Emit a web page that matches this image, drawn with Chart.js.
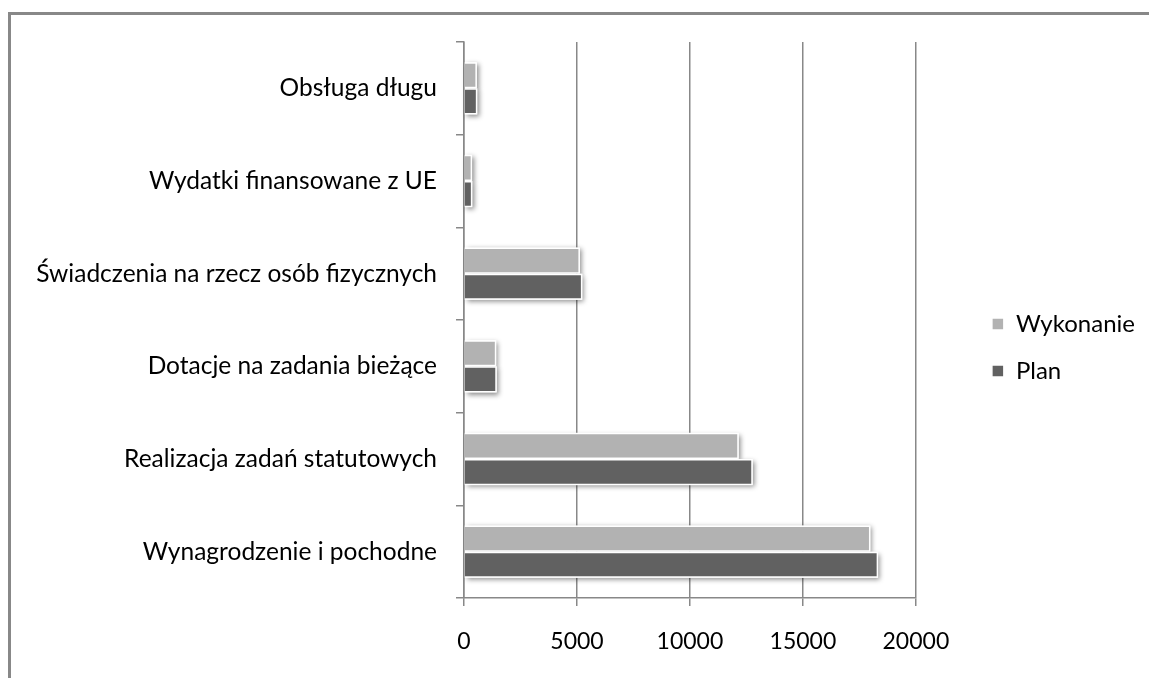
<!DOCTYPE html>
<html>
<head>
<meta charset="utf-8">
<script src="https://cdn.jsdelivr.net/npm/chart.js@4"></script>
<style>
    html, body { margin: 0; padding: 0; background: #fff; overflow: hidden; }
    .frame {
        position: absolute; left: 8px; top: 12px; width: 1200px; height: 700px;
        border-top: 3px solid #888; border-left: 3px solid #888;
    }
    #chart { position: absolute; left: 11px; top: 15px; }
</style>
</head>
<body>
<div class="frame"></div>
<canvas id="chart" width="1138" height="663"></canvas>
<script>
// dane z wykresu (od góry do dołu)
const categories = [
    "Obsługa długu",
    "Wydatki finansowane z UE",
    "Świadczenia na rzecz osób fizycznych",
    "Dotacje na zadania bieżące",
    "Realizacja zadań statutowych",
    "Wynagrodzenie i pochodne"
];
const wykonanie = [570, 360, 5130, 1430, 12160, 17990];
const plan = [590, 370, 5240, 1450, 12780, 18330];
const xTicks = [0, 5000, 10000, 15000, 20000];

const gridColor = "#888";
const fontFamily = "Lato, 'Noto Sans', sans-serif";

// cień pod słupkami jak w Excelu
const barShadow = {
    id: "barShadow",
    beforeDatasetsDraw(chart) {
        const ctx = chart.ctx;
        ctx.save();
        ctx.shadowColor = "rgba(0,0,0,0.45)";
        ctx.shadowBlur = 5;
        ctx.shadowOffsetX = 2;
        ctx.shadowOffsetY = 2;
        ctx.fillStyle = "#fff";
        chart.data.datasets.forEach((ds, i) => {
            const meta = chart.getDatasetMeta(i);
            if (meta.hidden) return;
            meta.data.forEach(el => {
                const { x, y, base, height } = el.getProps(["x", "y", "base", "height"], true);
                ctx.fillRect(Math.min(base, x), y - height / 2, Math.abs(x - base), height);
            });
        });
        ctx.restore();
    }
};

new Chart(document.getElementById("chart").getContext("2d"), {
    type: "bar",
    data: {
        labels: categories,
        datasets: [
            { label: "Wykonanie", data: wykonanie, backgroundColor: "#b2b2b2", borderColor: "#fff", borderWidth: 1.5 },
            { label: "Plan", data: plan, backgroundColor: "#616161", borderColor: "#fff", borderWidth: 1.5 }
        ]
    },
    options: {
        indexAxis: "y",
        responsive: false,
        animation: false,
        categoryPercentage: 0.565,
        barPercentage: 1,
        layout: { padding: { top: 2, left: 0, right: 4, bottom: 0 } },
        plugins: {
            tooltip: { enabled: false },
            legend: {
                position: "right",
                labels: {
                    boxWidth: 12, boxHeight: 12, padding: 23,
                    color: "#000",
                    font: { family: fontFamily, size: 24 }
                }
            }
        },
        scales: {
            x: {
                min: xTicks[0],
                max: xTicks[xTicks.length - 1],
                afterBuildTicks: s => { s.ticks = xTicks.map(v => ({ value: v })); },
                afterFit: s => { s.height = 80; },
                grid: { color: gridColor, lineWidth: 1.5, tickLength: 8 },
                border: { color: gridColor, width: 1.5 },
                ticks: {
                    color: "#000", padding: 22,
                    font: { family: fontFamily, size: 23 },
                    callback: v => String(v)
                }
            },
            y: {
                afterFit: s => { s.width = 453; s.paddingTop = 0; s.paddingBottom = 0; },
                grid: { offset: true, drawOnChartArea: false, color: gridColor, lineWidth: 1.5, tickLength: 8 },
                border: { color: gridColor, width: 1.5 },
                ticks: { color: "#000", padding: 19, font: { family: fontFamily, size: 24.5 } }
            },
            xTop: {
                position: "top",
                type: "linear",
                afterFit: s => { s.height = 25; s.paddingLeft = 0; s.paddingRight = 0; },
                grid: { display: false },
                border: { display: false },
                ticks: { display: false }
            },
            yRight: {
                position: "right",
                type: "linear",
                afterFit: s => { s.width = 53; s.paddingTop = 0; s.paddingBottom = 0; },
                grid: { display: false },
                border: { display: false },
                ticks: { display: false }
            }
        }
    },
    plugins: [barShadow]
});
</script>
</body>
</html>
